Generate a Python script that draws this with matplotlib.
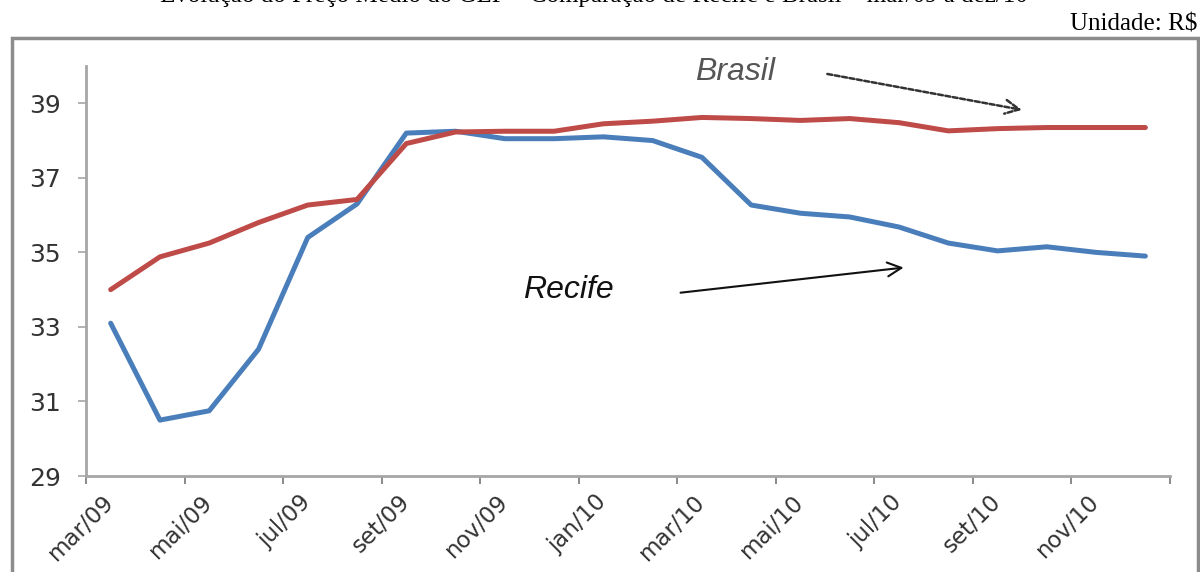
import numpy as np
import matplotlib.pyplot as plt
from matplotlib.patches import Rectangle

months = ["mar/09", "abr/09", "mai/09", "jun/09", "jul/09", "ago/09", "set/09", "out/09",
          "nov/09", "dez/09", "jan/10", "fev/10", "mar/10", "abr/10", "mai/10", "jun/10",
          "jul/10", "ago/10", "set/10", "out/10", "nov/10", "dez/10"]
recife = [33.1, 30.5, 30.75, 32.4, 35.4, 36.3, 38.2, 38.25, 38.05, 38.05, 38.1, 38.0,
          37.55, 36.27, 36.05, 35.95, 35.68, 35.25, 35.04, 35.15, 35.0, 34.9]
brasil = [34.0, 34.88, 35.25, 35.8, 36.27, 36.42, 37.92, 38.23, 38.25, 38.25, 38.45, 38.52,
          38.62, 38.59, 38.54, 38.59, 38.48, 38.26, 38.32, 38.35, 38.35, 38.35]
yticks = [29, 31, 33, 35, 37, 39]

blue = "#4A7EBB"
red = "#BE4B48"
axis_gray = "#A6A6A6"

fig = plt.figure(figsize=(12, 5.72), dpi=100)
ax = fig.add_axes([0.0717, 0.1678, 0.9033, 0.7168])

x = np.arange(len(months))
ax.plot(x, recife, color=blue, lw=3.6, solid_capstyle="round", solid_joinstyle="round")
ax.plot(x, brasil, color=red, lw=3.6, solid_capstyle="round", solid_joinstyle="round")

ax.set_xlim(-0.5, len(months) - 0.5)
ax.set_ylim(29, 40)

# y axis
ax.set_yticks(yticks)
ax.set_yticklabels([str(v) for v in yticks], fontsize=18, color="#333333")
ax.tick_params(axis="y", direction="out", length=6, width=1.2, color=axis_gray, pad=12)

# x axis: tick marks between categories, labels every 2 months
ax.set_xticks(np.arange(-0.5, len(months), 2))
ax.set_xticklabels([])
ax.tick_params(axis="x", which="major", direction="out", length=6, width=1.2, color="#777777")
ax.set_xticks(x[::2], minor=True)
ax.set_xticklabels(months[::2], minor=True, rotation=45, ha="right", va="center",
                   rotation_mode="anchor", fontsize=16.5, color="#333333")
ax.tick_params(axis="x", which="minor", length=0, pad=16)

for s in ["top", "right"]:
    ax.spines[s].set_visible(False)
for s in ["left", "bottom"]:
    ax.spines[s].set_color(axis_gray)
    ax.spines[s].set_linewidth(2)

# annotations
ax.text(12.68, 39.83, "Brasil", fontsize=23, style="italic", family="Liberation Sans",
        color="#555555", ha="center", va="center")
ax.annotate("", xy=(18.55, 38.81), xytext=(14.49, 39.80),
            arrowprops=dict(arrowstyle="->", color="#333333", lw=1.8, ls=(0, (2, 1)),
                            mutation_scale=25))
ax.text(9.28, 33.99, "Recife", fontsize=23, style="italic", family="Liberation Sans",
        color="#111111", ha="center", va="center")
ax.annotate("", xy=(16.15, 34.6), xytext=(11.51, 33.91),
            arrowprops=dict(arrowstyle="->", color="#111111", lw=1.5, mutation_scale=25))

# outer frame and header text
fig.patches.append(Rectangle((12 / 1200, -0.05), 1186 / 1200, 1.05 - 38 / 572,
                             transform=fig.transFigure, fill=False,
                             edgecolor="#8C8C8C", lw=2.5))
fig.text(0.998, 1 - 30 / 572, "Unidade: R$", family="Liberation Serif", fontsize=18,
         ha="right", va="baseline", color="black")
fig.text(160 / 1200, 1 - 2 / 572,
         "Evolução do Preço Médio do GLP – Comparação de Recife e Brasil – mar/09 a dez/10",
         family="Liberation Serif", fontsize=18, ha="left", va="baseline", color="black")

fig.savefig("out.png", dpi=100)
